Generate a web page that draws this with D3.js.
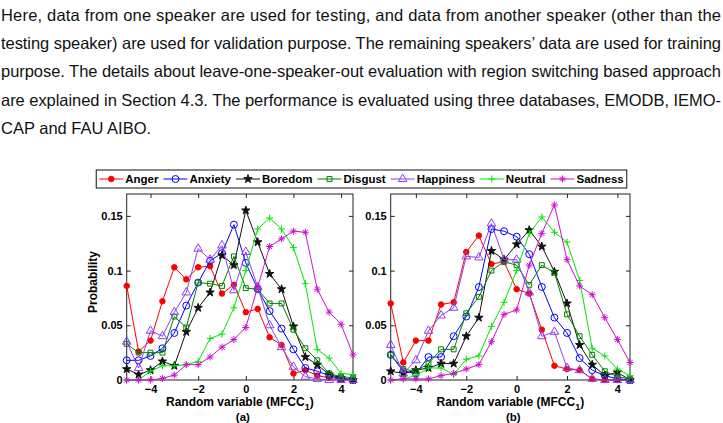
<!DOCTYPE html>
<html>
<head>
<meta charset="utf-8">
<script src="https://cdn.jsdelivr.net/npm/d3@7"></script>
<style>
  body { margin: 0; background: #fff; }
  svg { display: block; }
</style>
</head>
<body>
<svg id="fig" width="723" height="423"></svg>
<script>
// text above the figure
const paraLines = [
  "Here, data from one speaker are used for testing, and data from another speaker (other than the",
  "testing speaker) are used for validation purpose. The remaining speakers\u2019 data are used for training",
  "purpose. The details about leave-one-speaker-out evaluation with region switching based approach",
  "are explained in Section 4.3. The performance is evaluated using three databases, EMODB, IEMO-",
  "CAP and FAU AIBO."
];

const emotions = ["Anger", "Anxiety", "Boredom", "Disgust", "Happiness", "Neutral", "Sadness"];
const xValues = [-5, -4.5, -4, -3.5, -3, -2.5, -2, -1.5, -1, -0.5, 0, 0.5, 1, 1.5, 2, 2.5, 3, 3.5, 4, 4.5];
const xTicks = [-4, -2, 0, 2, 4];
const yTicks = [0, 0.05, 0.1, 0.15];

// panel (a)
const angerA     = [0.086, 0.026, 0.036, 0.072, 0.103, 0.092, 0.103, 0.104, 0.079, 0.087, 0.062, 0.065, 0.039, 0.032, 0.006, 0.009, 0.004, 0.002, 0.001, 0.000];
const anxietyA   = [0.018, 0.018, 0.022, 0.029, 0.043, 0.068, 0.089, 0.109, 0.116, 0.142, 0.107, 0.083, 0.063, 0.047, 0.028, 0.011, 0.008, 0.004, 0.001, 0.000];
const boredomA   = [0.010, 0.005, 0.009, 0.017, 0.013, 0.044, 0.066, 0.080, 0.114, 0.105, 0.155, 0.126, 0.097, 0.083, 0.049, 0.021, 0.014, 0.005, 0.002, 0.000];
const disgustA   = [0.033, 0.025, 0.025, 0.025, 0.058, 0.048, 0.089, 0.088, 0.086, 0.113, 0.084, 0.083, 0.070, 0.070, 0.046, 0.029, 0.018, 0.006, 0.003, 0.002];
const happinessA = [0.035, 0.011, 0.045, 0.040, 0.062, 0.080, 0.120, 0.110, 0.123, 0.082, 0.117, 0.085, 0.050, 0.030, 0.012, 0.003, 0.001, 0.000, 0.000, 0.000];
const neutralA   = [0.000, 0.000, 0.008, 0.013, 0.013, 0.014, 0.017, 0.038, 0.042, 0.066, 0.100, 0.138, 0.148, 0.138, 0.121, 0.088, 0.028, 0.020, 0.006, 0.005];
const sadnessA   = [0.000, 0.000, 0.000, 0.0015, 0.0045, 0.014, 0.014, 0.021, 0.030, 0.037, 0.048, 0.085, 0.122, 0.129, 0.136, 0.135, 0.083, 0.062, 0.051, 0.023];

// panel (b)
const angerB     = [0.070, 0.016, 0.036, 0.036, 0.069, 0.071, 0.117, 0.132, 0.106, 0.108, 0.083, 0.079, 0.046, 0.013, 0.010, 0.009, 0.001, 0.000, 0.000, 0.000];
const anxietyB   = [0.023, 0.008, 0.006, 0.021, 0.021, 0.040, 0.058, 0.085, 0.138, 0.136, 0.131, 0.115, 0.085, 0.057, 0.043, 0.020, 0.009, 0.004, 0.001, 0.000];
const boredomB   = [0.008, 0.006, 0.009, 0.011, 0.015, 0.015, 0.040, 0.057, 0.118, 0.110, 0.124, 0.137, 0.122, 0.099, 0.070, 0.032, 0.014, 0.004, 0.007, 0.000];
const disgustB   = [0.023, 0.010, 0.008, 0.015, 0.028, 0.028, 0.061, 0.076, 0.100, 0.108, 0.105, 0.087, 0.105, 0.098, 0.060, 0.040, 0.023, 0.008, 0.003, 0.001];
const happinessB = [0.032, 0.006, 0.018, 0.045, 0.059, 0.066, 0.113, 0.112, 0.143, 0.110, 0.110, 0.080, 0.040, 0.044, 0.011, 0.009, 0.001, 0.000, 0.000, 0.000];
const neutralB   = [0.000, 0.001, 0.004, 0.011, 0.011, 0.005, 0.019, 0.022, 0.049, 0.071, 0.100, 0.134, 0.149, 0.135, 0.126, 0.091, 0.029, 0.022, 0.010, 0.004];
const sadnessB   = [0.000, 0.001, 0.001, 0.001, 0.004, 0.006, 0.010, 0.014, 0.035, 0.060, 0.064, 0.105, 0.134, 0.160, 0.110, 0.086, 0.078, 0.057, 0.037, 0.016];

const panelA = [angerA, anxietyA, boredomA, disgustA, happinessA, neutralA, sadnessA];
const panelB = [angerB, anxietyB, boredomB, disgustB, happinessB, neutralB, sadnessB];

const colors  = ["#ff0000", "#0000ff", "#111111", "#008000", "#9040f0", "#00e600", "#cc11cc"];
const markers = ["dot", "circle", "star", "square", "triangle", "plus", "asterisk"];

const svg = d3.select("#fig");
const FONT = "'Liberation Sans', Arial, Helvetica, sans-serif";

// marker shapes, matlab-ish
function markerPath(kind) {
  switch (kind) {
    case "dot":      return d3.symbol(d3.symbolCircle, 24)();
    case "circle":   return d3.symbol(d3.symbolCircle, 38)();
    case "star":     return d3.symbol(d3.symbolStar, 22)();
    case "square":   return d3.symbol(d3.symbolSquare, 24)();
    case "triangle": return d3.symbol(d3.symbolTriangle, 32)();
    case "plus":     return "M-3.5,0H3.5M0,-3.5V3.5";
    case "asterisk": return "M-3.5,0H3.5M0,-3.5V3.5M-2.5,-2.5L2.5,2.5M-2.5,2.5L2.5,-2.5";
  }
}
function markerFill(i) {
  return (markers[i] === "dot" || markers[i] === "star") ? colors[i] : "none";
}

//
// paragraph
//
const para = svg.append("g")
  .attr("font-family", FONT)
  .attr("font-size", 16.5)
  .attr("fill", "#111");
paraLines.forEach((t, i) => {
  const txt = para.append("text")
    .attr("x", 1)
    .attr("y", 20.5 + i * 28.4)
    .text(t);
  // justified lines, last one left ragged
  if (i < paraLines.length - 1) txt.attr("textLength", 720).attr("lengthAdjust", "spacing");
});

//
// legend
//
const legend = svg.append("g")
  .attr("font-family", FONT)
  .attr("font-size", 11.5)
  .attr("font-weight", "bold");
const legBox = legend.append("rect")
  .attr("y", 170).attr("height", 18)
  .attr("fill", "#fff").attr("stroke", "#111").attr("stroke-width", 1);
const lineLen = 24, textGap = 2, itemGap = 5, pad = 3;
let cursor = 0;
const items = emotions.map((name, i) => {
  const it = legend.append("g");
  it.append("line")
    .attr("x1", 0).attr("x2", lineLen).attr("y1", 0).attr("y2", 0)
    .attr("stroke", colors[i]).attr("stroke-width", 1);
  it.append("path")
    .attr("d", markerPath(markers[i]))
    .attr("transform", `translate(${lineLen / 2},0)`)
    .attr("fill", markerFill(i))
    .attr("stroke", colors[i]).attr("stroke-width", 1);
  const t = it.append("text")
    .attr("x", lineLen + textGap).attr("dy", "0.35em")
    .attr("fill", "#000")
    .text(name);
  const w = t.node().getComputedTextLength();
  const pos = cursor;
  cursor += lineLen + textGap + w + (i < emotions.length - 1 ? itemGap : 0);
  return { it, pos };
});
const legWidth = cursor + 2 * pad;
const legLeft = 723 / 2 - legWidth / 2;
legBox.attr("x", legLeft).attr("width", legWidth);
items.forEach(d => d.it.attr("transform", `translate(${legLeft + pad + d.pos},179)`));

//
// panels
//
const yTop = 194, yBot = 380;

function drawPanel(x0, x1, series, tag, withYLabel) {
  const x = d3.scaleLinear().domain([-5, 4.5]).range([x0, x1]);
  const y = d3.scaleLinear().domain([0, 0.17]).range([yBot, yTop]);
  const g = svg.append("g");

  const styleAxis = sel => {
    sel.select(".domain").remove();
    sel.attr("font-family", FONT).attr("font-size", 11).attr("font-weight", "bold");
    sel.selectAll(".tick line").attr("stroke", "#222");
    sel.selectAll(".tick text").attr("fill", "#000");
  };

  g.append("g").attr("transform", `translate(0,${yBot})`)
    .call(d3.axisBottom(x).tickValues(xTicks).tickSizeInner(-4).tickSizeOuter(0).tickPadding(5))
    .call(styleAxis);
  g.append("g").attr("transform", `translate(0,${yTop})`)
    .call(d3.axisTop(x).tickValues(xTicks).tickSizeInner(-4).tickSizeOuter(0).tickFormat(""))
    .call(styleAxis);
  g.append("g").attr("transform", `translate(${x0},0)`)
    .call(d3.axisLeft(y).tickValues(yTicks).tickSizeInner(-4).tickSizeOuter(0).tickPadding(4)
      .tickFormat(d => d === 0 ? "0" : d3.format(".2~f")(d)))
    .call(styleAxis);
  g.append("g").attr("transform", `translate(${x1},0)`)
    .call(d3.axisRight(y).tickValues(yTicks).tickSizeInner(-4).tickSizeOuter(0).tickFormat(""))
    .call(styleAxis);

  g.append("rect")
    .attr("x", x0).attr("y", yTop)
    .attr("width", x1 - x0).attr("height", yBot - yTop)
    .attr("fill", "none").attr("stroke", "#222").attr("stroke-width", 1);

  const line = d3.line()
    .x((d, i) => x(xValues[i]))
    .y(d => y(d));

  series.forEach((vals, k) => {
    const s = g.append("g");
    s.append("path")
      .attr("d", line(vals))
      .attr("fill", "none")
      .attr("stroke", colors[k])
      .attr("stroke-width", 1);
    s.selectAll("path.mk")
      .data(vals)
      .join("path")
      .attr("class", "mk")
      .attr("d", markerPath(markers[k]))
      .attr("transform", (d, i) => `translate(${x(xValues[i])},${y(d)})`)
      .attr("fill", markerFill(k))
      .attr("stroke", colors[k])
      .attr("stroke-width", 1);
  });

  const cx = (x0 + x1) / 2;
  const xl = g.append("text")
    .attr("x", cx).attr("y", 406)
    .attr("text-anchor", "middle")
    .attr("font-family", FONT).attr("font-size", 12).attr("font-weight", "bold");
  xl.append("tspan").text("Random variable (MFCC");
  xl.append("tspan").attr("font-size", 9).attr("dy", 4).text("1");
  xl.append("tspan").attr("dy", -4).text(")");

  g.append("text")
    .attr("x", cx + 3).attr("y", 421)
    .attr("text-anchor", "middle")
    .attr("font-family", FONT).attr("font-size", 11.5).attr("font-weight", "bold")
    .text(tag);

  if (withYLabel) {
    g.append("text")
      .attr("transform", `translate(${x0 - 30},${(yTop + yBot) / 2 - 5}) rotate(-90)`)
      .attr("text-anchor", "middle")
      .attr("font-family", FONT).attr("font-size", 12).attr("font-weight", "bold")
      .text("Probability");
  }
}

drawPanel(126.7, 353, panelA, "(a)", true);
drawPanel(390.7, 630, panelB, "(b)", false);
</script>
</body>
</html>
